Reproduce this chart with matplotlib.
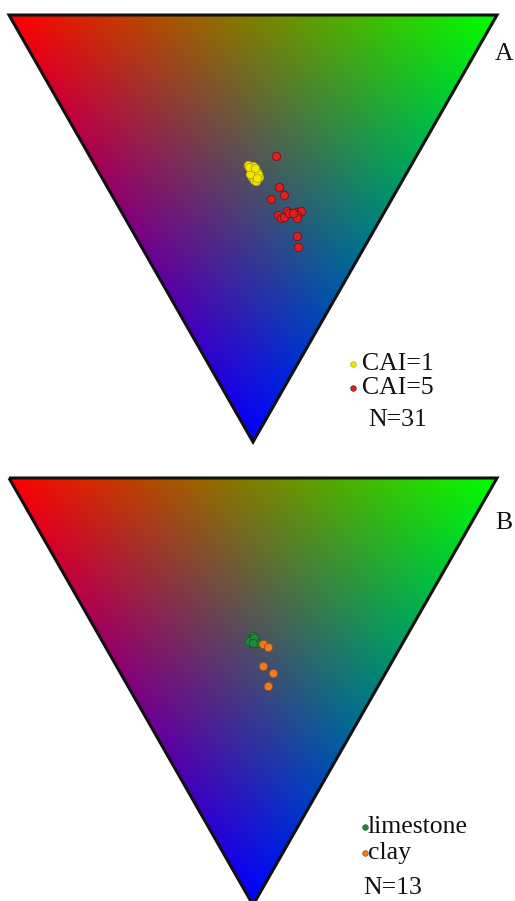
import numpy as np
import matplotlib
matplotlib.use("Agg")
import matplotlib.pyplot as plt
from matplotlib.patches import Polygon

# ternary compositions: fraction of green (top-right) and blue (bottom) apex
cai1_g = [0.314, 0.322, 0.318, 0.324, 0.323, 0.308, 0.309, 0.312, 0.317, 0.320, 0.324, 0.308, 0.317, 0.314, 0.325]
cai1_b = [0.351, 0.354, 0.368, 0.367, 0.379, 0.379, 0.386, 0.388, 0.375, 0.361, 0.372, 0.372, 0.382, 0.356, 0.358]
cai5_g = [0.382, 0.353, 0.353, 0.321, 0.318, 0.320, 0.327, 0.340, 0.342, 0.358, 0.368, 0.357, 0.352, 0.349, 0.331, 0.320]
cai5_b = [0.330, 0.402, 0.422, 0.432, 0.468, 0.475, 0.474, 0.458, 0.464, 0.461, 0.459, 0.468, 0.476, 0.464, 0.518, 0.544]
lime_g = [0.316, 0.306, 0.314, 0.314, 0.304, 0.302, 0.315, 0.307]
lime_b = [0.370, 0.378, 0.381, 0.387, 0.386, 0.381, 0.375, 0.386]
clay_g = [0.325, 0.334, 0.300, 0.312, 0.287]
clay_b = [0.389, 0.395, 0.440, 0.456, 0.486]

W, H = 515, 901
fig = plt.figure(figsize=(W / 100, H / 100), dpi=100)
fig.patch.set_facecolor('white')


def to_xy(g, b):
    g = np.asarray(g)
    b = np.asarray(b)
    return g + 0.5 * b, -b


def make_panel(top):
    # triangle box in pixels: left 9, right 497, height 427
    ax = fig.add_axes([9 / W, 1 - (top + 427) / H, 488 / W, 427 / H])
    ax.set_xlim(0, 1)
    ax.set_ylim(-1, 0)
    ax.axis('off')

    n = 500
    xs = np.linspace(0, 1, n)
    ys = np.linspace(0, -1, n)
    X, Y = np.meshgrid(xs, ys)
    b = -Y
    g = X - 0.5 * b
    r = 1 - g - b
    img = np.stack([r, g, b], axis=-1).clip(0, 1)
    inside = (r >= -0.01) & (g >= -0.01) & (b >= -0.01)
    rgba = np.dstack([img, inside.astype(float)])
    im = ax.imshow(rgba, extent=(0, 1, -1, 0), origin='upper', interpolation='bilinear',
                   aspect='auto', zorder=1)
    tri = Polygon([[0, 0], [1, 0], [0.5, -1]], closed=True, facecolor='none',
                  edgecolor='#111111', linewidth=2.2, joinstyle='miter', zorder=3, clip_on=False)
    ax.add_patch(tri)
    im.set_clip_path(tri)
    return ax


axA = make_panel(15)
x, y = to_xy(cai1_g, cai1_b)
axA.scatter(x, y, s=36, color='#f2e600', edgecolor='#b8a800', linewidth=0.6, zorder=4)
x, y = to_xy(cai5_g, cai5_b)
axA.scatter(x, y, s=36, color='#e02020', edgecolor='#7a1515', linewidth=0.7, zorder=5)

axB = make_panel(478)
x, y = to_xy(lime_g, lime_b)
axB.scatter(x, y, s=36, color='#1f8a3a', edgecolor='#145a26', linewidth=0.6, zorder=4)
x, y = to_xy(clay_g, clay_b)
axB.scatter(x, y, s=36, color='#f07a20', edgecolor='#a04e10', linewidth=0.6, zorder=5)

# overlay in pixel coordinates for labels and legends
ov = fig.add_axes([0, 0, 1, 1], facecolor='none')
ov.set_xlim(0, W)
ov.set_ylim(H, 0)
ov.axis('off')

font = dict(family='Liberation Serif', fontsize=18.5, color='#111111', va='center')

ov.text(495, 54, 'A', **font)
ov.text(495, 523, 'B', **font)

ov.scatter([353], [364], s=16, color='#f2e600', edgecolor='#b8a800', linewidth=0.5)
ov.text(362, 364, 'CAI=1', **font)
ov.scatter([353], [388], s=16, color='#e02020', edgecolor='#7a1515', linewidth=0.5)
ov.text(362, 388, 'CAI=5', **font)
ov.text(368, 420, 'N=31', **font)

ov.scatter([365], [827], s=16, color='#1f8a3a', edgecolor='#145a26', linewidth=0.5)
ov.text(368, 827, 'limestone', **font)
ov.scatter([365], [853], s=16, color='#f07a20', edgecolor='#a04e10', linewidth=0.5)
ov.text(368, 853, 'clay', **font)
ov.text(363, 888, 'N=13', **font)

fig.savefig('out.png', dpi=100)
